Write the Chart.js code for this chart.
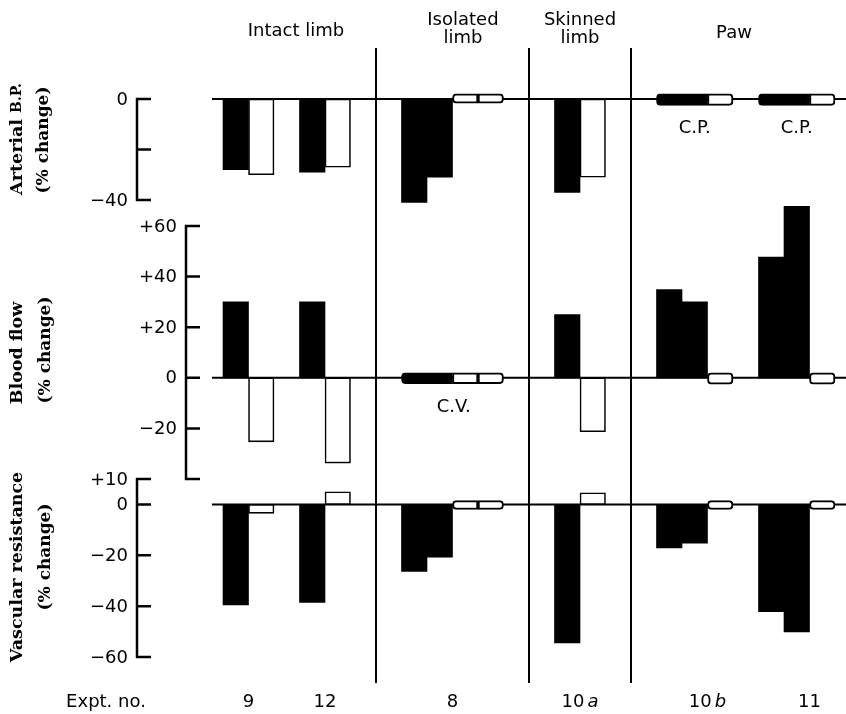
<!DOCTYPE html>
<html>
<head>
<meta charset="utf-8">
<script src="https://cdn.jsdelivr.net/npm/chart.js@4.4.1/dist/chart.umd.min.js"></script>
<style>
  html, body { margin: 0; padding: 0; background: #fff; }
  #wrap { position: relative; width: 846px; height: 714px; }
  #wrap canvas { position: absolute; left: 0; top: 0; }
</style>
</head>
<body>
<div id="wrap">
  <canvas id="bp" width="846" height="714"></canvas>
  <canvas id="flow" width="846" height="714"></canvas>
  <canvas id="res" width="846" height="714"></canvas>
</div>
<script>
// 24 bar slots along x; '' = gap between experiments
const slots = ['9', '9', '', '12', '12', '', '', '8', '8', '8', '8', '', '', '10a', '10a', '', '', '10b', '10b', '10b', '', '11', '11', '11'];
// k = filled bar, w = open bar
const fills = ['k', 'w', '', 'k', 'w', '', '', 'k', 'k', 'w', 'w', '', '', 'k', 'w', '', '', 'k', 'k', 'w', '', 'k', 'k', 'w'];

const experiments = ['9', '12', '8', '10a', '10b', '11'];
const groups = ['Intact limb', 'Isolated\nlimb', 'Skinned\nlimb', 'Paw'];

// % change, [low, high] = "no change" boxes round zero
const bpValues = [-28, -30, null, -29, -27, null, null, -41, -31, [-1.7, 2], [-1.7, 2], null, null, -37, -31, null, null,
  [-2.5, 2], [-2.5, 2], [-2.5, 2], null, [-2.5, 2], [-2.5, 2], [-2.5, 2]];
const flowValues = [30, -25.3, null, 30, -33.7, null, null, [-2.3, 2], [-2.3, 2], [-2.3, 2], [-2.3, 2], null, null, 25, -21.3, null, null,
  34.9, 30, [-2.5, 2], null, 47.7, 67.8, [-2.5, 2]];
const resValues = [-39.5, -3.5, null, -38.5, 5, null, null, -26.3, -20.7, [-2, 1.5], [-2, 1.5], null, null, -54.5, 4.6, null, null,
  -17.1, -15.2, [-2, 1.5], null, -42.2, -50.1, [-2, 1.5]];

const bpTicks = [0, -20, -40];
const bpTickLabels = ['0', '', '\u221240'];
const flowTicks = [60, 40, 20, 0, -20, -40];
const flowTickLabels = ['+60', '+40', '+20', '0', '\u221220', ''];
const resTicks = [10, 0, -20, -40, -60];
const resTickLabels = ['+10', '0', '\u221220', '\u221240', '\u221260'];

const SANS = '"DejaVu Sans", sans-serif';
const SERIF = '"DejaVu Serif", serif';
const FS = '18px ';

function isBox(v) { return Array.isArray(v); }

function radii(values) {
  return values.map((v, i) => {
    if (!isBox(v)) return 0;
    const l = isBox(values[i - 1]) ? 0 : 4;
    const r = isBox(values[i + 1]) ? 0 : 4;
    return { topLeft: l, bottomLeft: l, topRight: r, bottomRight: r };
  });
}

const panelDecor = {
  id: 'panelDecor',
  beforeDatasetsDraw(chart) {
    const { ctx, chartArea } = chart;
    const y0 = chart.scales.y.getPixelForValue(0);
    ctx.save();
    ctx.strokeStyle = '#000';
    ctx.lineWidth = 2;
    ctx.beginPath();
    ctx.moveTo(chartArea.left - 11, y0);
    ctx.lineTo(chart.width, y0);
    ctx.stroke();
    ctx.restore();
  },
  afterDraw(chart, args, opts) {
    const { ctx } = chart;
    const y = chart.scales.y;
    const ticks = opts.ticks;
    const ax = opts.axisX;
    ctx.save();
    ctx.strokeStyle = '#000';
    ctx.lineWidth = 2.5;
    ctx.beginPath();
    ctx.moveTo(ax, y.getPixelForValue(ticks[0]));
    ctx.lineTo(ax, y.getPixelForValue(ticks[ticks.length - 1]));
    ticks.forEach(t => {
      const py = y.getPixelForValue(t);
      ctx.moveTo(ax - 1.2, py);
      ctx.lineTo(ax + 14, py);
    });
    ctx.stroke();

    ctx.fillStyle = '#000';
    ctx.font = FS + SANS;
    ctx.textAlign = 'right';
    ctx.textBaseline = 'middle';
    ticks.forEach((t, i) => {
      if (opts.labels[i]) ctx.fillText(opts.labels[i], ax - 9, y.getPixelForValue(t) + 1);
    });

    // notes like C.P. / C.V.
    const x = chart.scales.x;
    ctx.textAlign = 'center';
    (opts.notes || []).forEach(n => {
      ctx.fillText(n.text, x.getPixelForValue(n.at), y.getPixelForValue(n.value));
    });

    // rotated titles
    ctx.textBaseline = 'middle';
    opts.title.forEach(line => {
      ctx.save();
      ctx.translate(line.x, line.y);
      ctx.rotate(-Math.PI / 2);
      let total = 0;
      line.parts.forEach(p => { ctx.font = p.font; total += ctx.measureText(p.text).width; });
      let cx = -total / 2;
      ctx.textAlign = 'left';
      line.parts.forEach(p => {
        ctx.font = p.font;
        ctx.fillText(p.text, cx, 0);
        cx += ctx.measureText(p.text).width;
      });
      ctx.restore();
    });
    ctx.restore();
  }
};

const figureDecor = {
  id: 'figureDecor',
  afterDraw(chart) {
    const { ctx } = chart;
    const x = chart.scales.x;
    ctx.save();
    ctx.strokeStyle = '#000';
    ctx.lineWidth = 2;
    // group dividers
    [5.5, 11.5, 15.5].forEach(v => {
      const px = x.getPixelForValue(v);
      ctx.beginPath();
      ctx.moveTo(px, 48);
      ctx.lineTo(px, 683);
      ctx.stroke();
    });

    ctx.fillStyle = '#000';
    ctx.font = FS + SANS;
    ctx.textAlign = 'center';
    ctx.textBaseline = 'alphabetic';
    const headerAt = [2.36, 8.91, 13.5, 19.54];
    groups.forEach((g, i) => {
      const lines = g.split('\n');
      const px = x.getPixelForValue(headerAt[i]);
      if (lines.length === 1) {
        ctx.fillText(lines[0], px, i === 0 ? 36 : 38);
      } else {
        ctx.fillText(lines[0], px, 25);
        ctx.fillText(lines[1], px, 43);
      }
    });

    // experiment numbers
    const exptAt = [0.5, 3.5, 8.5, 13.5, 18.5, 22.5];
    ctx.fillText('Expt. no.', 106, 707);
    experiments.forEach((e, i) => {
      const px = x.getPixelForValue(exptAt[i]);
      const m = e.match(/^(\d+)([a-z]?)$/);
      if (!m[2]) { ctx.fillText(e, px, 707); return; }
      ctx.font = FS + SANS;
      const w1 = ctx.measureText(m[1]).width + 3;
      ctx.font = 'italic ' + FS + SANS;
      const w2 = ctx.measureText(m[2]).width;
      const sx = px - (w1 + w2) / 2;
      ctx.textAlign = 'left';
      ctx.font = FS + SANS;
      ctx.fillText(m[1], sx, 707);
      ctx.font = 'italic ' + FS + SANS;
      ctx.fillText(m[2], sx + w1, 707);
      ctx.textAlign = 'center';
      ctx.font = FS + SANS;
    });
    ctx.restore();
  }
};

function makePanel(id, values, min, max, top, bottom, decor, extra) {
  return new Chart(document.getElementById(id), {
    type: 'bar',
    data: {
      labels: slots,
      datasets: [{
        data: values,
        backgroundColor: fills.map(f => (f === 'k' ? '#000' : '#fff')),
        borderColor: '#000',
        borderWidth: values.map((v, i) => (isBox(v) ? 2 : (fills[i] === 'w' ? 1.6 : 0))),
        borderSkipped: false,
        borderRadius: radii(values),
        barPercentage: 1,
        categoryPercentage: 1,
        clip: false
      }]
    },
    options: {
      responsive: false,
      animation: false,
      events: [],
      layout: { padding: { left: 223, right: 11, top: top, bottom: 714 - bottom } },
      scales: {
        x: { display: false },
        y: { display: false, min: min, max: max }
      },
      plugins: {
        legend: { display: false },
        tooltip: { enabled: false },
        panelDecor: decor
      }
    },
    plugins: extra ? [panelDecor, extra] : [panelDecor]
  });
}

const TITLE = 'bold 17.5px ' + SERIF;
const TITLE2 = 'bold 17px ' + SERIF;

makePanel('bp', bpValues, -40, 0, 99, 200, {
  axisX: 137, ticks: bpTicks, labels: bpTickLabels,
  notes: [{ text: 'C.P.', at: 18, value: -11.5 }, { text: 'C.P.', at: 22, value: -11.5 }],
  title: [
    { x: 17, y: 139, parts: [{ text: 'Arterial ', font: TITLE }, { text: 'B.P.', font: 'bold 14px ' + SERIF }] },
    { x: 44, y: 140, parts: [{ text: '(% change)', font: TITLE2 }] }
  ]
});

makePanel('flow', flowValues, -40, 60, 226, 479, {
  axisX: 186, ticks: flowTicks, labels: flowTickLabels,
  notes: [{ text: 'C.V.', at: 8.55, value: -11.5 }],
  title: [
    { x: 17, y: 353, parts: [{ text: 'Blood flow', font: TITLE }] },
    { x: 46, y: 350, parts: [{ text: '(% change)', font: TITLE2 }] }
  ]
});

makePanel('res', resValues, -60, 10, 479, 657, {
  axisX: 137, ticks: resTicks, labels: resTickLabels,
  title: [
    { x: 17, y: 567, parts: [{ text: 'Vascular resistance', font: TITLE }] },
    { x: 46, y: 557, parts: [{ text: '(% change)', font: TITLE2 }] }
  ]
}, figureDecor);
</script>
</body>
</html>
